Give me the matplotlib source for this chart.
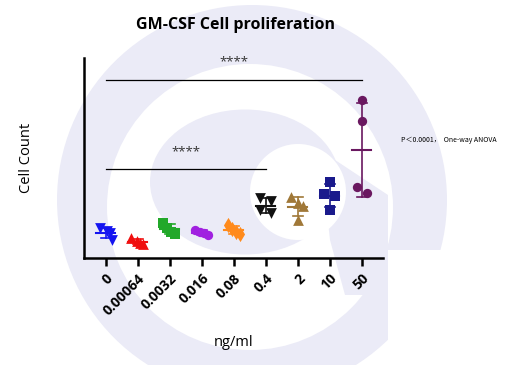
import numpy as np
import matplotlib
matplotlib.use("Agg")
import matplotlib.pyplot as plt
from matplotlib.patches import Circle, Ellipse, Polygon, Rectangle

categories = ["0", "0.00064", "0.0032", "0.016", "0.08", "0.4", "2", "10", "50"]
values = [
    [30, 27, 25, 18],
    [20, 17, 15, 14],
    [35, 30, 26, 24],
    [28, 26, 25, 23],
    [33, 29, 26, 24],
    [60, 57, 48, 45],
    [61, 55, 52, 38],
    [76, 64, 62, 48],
    [158, 137, 71, 65],
]
colors = ["#1414F0", "#F01010", "#22A82A", "#A020E0", "#FF8A1C",
          "#111111", "#A07838", "#1A1A8C", "#6A1860"]
markers = ["v", "^", "s", "o", "d", "v", "^", "s", "o"]
# horizontal scatter of the points within each column (category units)
jitter = [
    [-0.18, 0.03, 0.14, 0.19],
    [-0.2, -0.04, 0.06, 0.17],
    [-0.2, -0.08, 0.05, 0.16],
    [-0.2, -0.07, 0.07, 0.2],
    [-0.18, -0.07, 0.08, 0.18],
    [-0.18, 0.17, -0.18, 0.17],
    [-0.2, 0.0, 0.17, 0.0],
    [0.0, -0.18, 0.17, 0.0],
    [0.0, 0.0, -0.16, 0.16],
]

plt.rcParams['font.family'] = ['Open Sans', 'DejaVu Sans']
fig = plt.figure(figsize=(5.14, 3.65), dpi=100)

# watermark
wm = "#EBEBF7"
bg = fig.add_axes([0, 0, 1, 1], zorder=-10)
bg.set_xlim(0, 514); bg.set_ylim(365, 0); bg.axis('off')
bg.add_patch(Circle((252, 200), 195, color=wm, lw=0))
bg.add_patch(Circle((250, 207), 143, color="white", lw=0))
bg.add_patch(Rectangle((388, 250), 120, 120, color="white", lw=0))
bg.add_patch(Ellipse((245, 182), 190, 145, color=wm, lw=0))
bg.add_patch(Polygon([(320, 150), (388, 195), (388, 295), (345, 295), (330, 240)],
                     closed=True, color=wm, lw=0))
bg.add_patch(Circle((298, 192), 48, color="white", lw=0))

ax = fig.add_axes([84/514, 1-258/365, (383-84)/514, (258-58)/365])
ax.patch.set_alpha(0)
x = np.arange(len(categories))
for i, vals in enumerate(values):
    v = np.array(vals, float)
    xs = x[i] + np.array(jitter[i])
    s = 45 if markers[i] == "o" else 60
    ax.scatter(xs, v, marker=markers[i], s=s, color=colors[i], zorder=3, lw=0)
    m = v.mean(); sd = v.std(ddof=1)
    ax.plot([x[i]-0.3, x[i]+0.3], [m, m], color=colors[i], lw=1.5, zorder=4)
    ax.plot([x[i], x[i]], [m-sd, m+sd], color=colors[i], lw=1.2, zorder=4)
    ax.plot([x[i]-0.15, x[i]+0.15], [m-sd]*2, color=colors[i], lw=1.2, zorder=4)
    ax.plot([x[i]-0.15, x[i]+0.15], [m+sd]*2, color=colors[i], lw=1.2, zorder=4)

# significance
ax.plot([0, 8], [178, 178], color="black", lw=0.9)
ax.text(4, 190, "****", ha="center", va="bottom", fontsize=9.5, color="#333333")
ax.plot([0, 5], [89, 89], color="black", lw=0.9)
ax.text(2.5, 100, "****", ha="center", va="bottom", fontsize=9.5, color="#333333")

ax.set_xlim(-0.68, 8.66)
ax.set_ylim(0, 200)
ax.set_yticks([])
ax.set_xticks(x)
ax.set_xticklabels(categories, rotation=45, ha="right", va="top",
                   rotation_mode="anchor", fontsize=10, fontweight="bold")
for s in ["top", "right"]:
    ax.spines[s].set_visible(False)
ax.spines["left"].set_linewidth(1.8)
ax.spines["bottom"].set_linewidth(1.8)
ax.tick_params(axis="x", width=1.8, length=6)

fig.text(235/514, 1-25/365, "GM-CSF Cell proliferation", ha="center", va="center",
         fontsize=11.5, fontweight="bold")
fig.text(26/514, 1-158/365, "Cell Count", rotation=90, ha="center", va="center", fontsize=10.5)
fig.text(234/514, 1-342/365, "ng/ml", ha="center", va="center", fontsize=10.5)
fig.text(401/514, 1-140/365, "P＜0.0001，  One-way ANOVA", ha="left", va="center",
         fontsize=5, family=['Noto Sans CJK SC', 'DejaVu Sans'])

fig.savefig("out.png", dpi=100)
